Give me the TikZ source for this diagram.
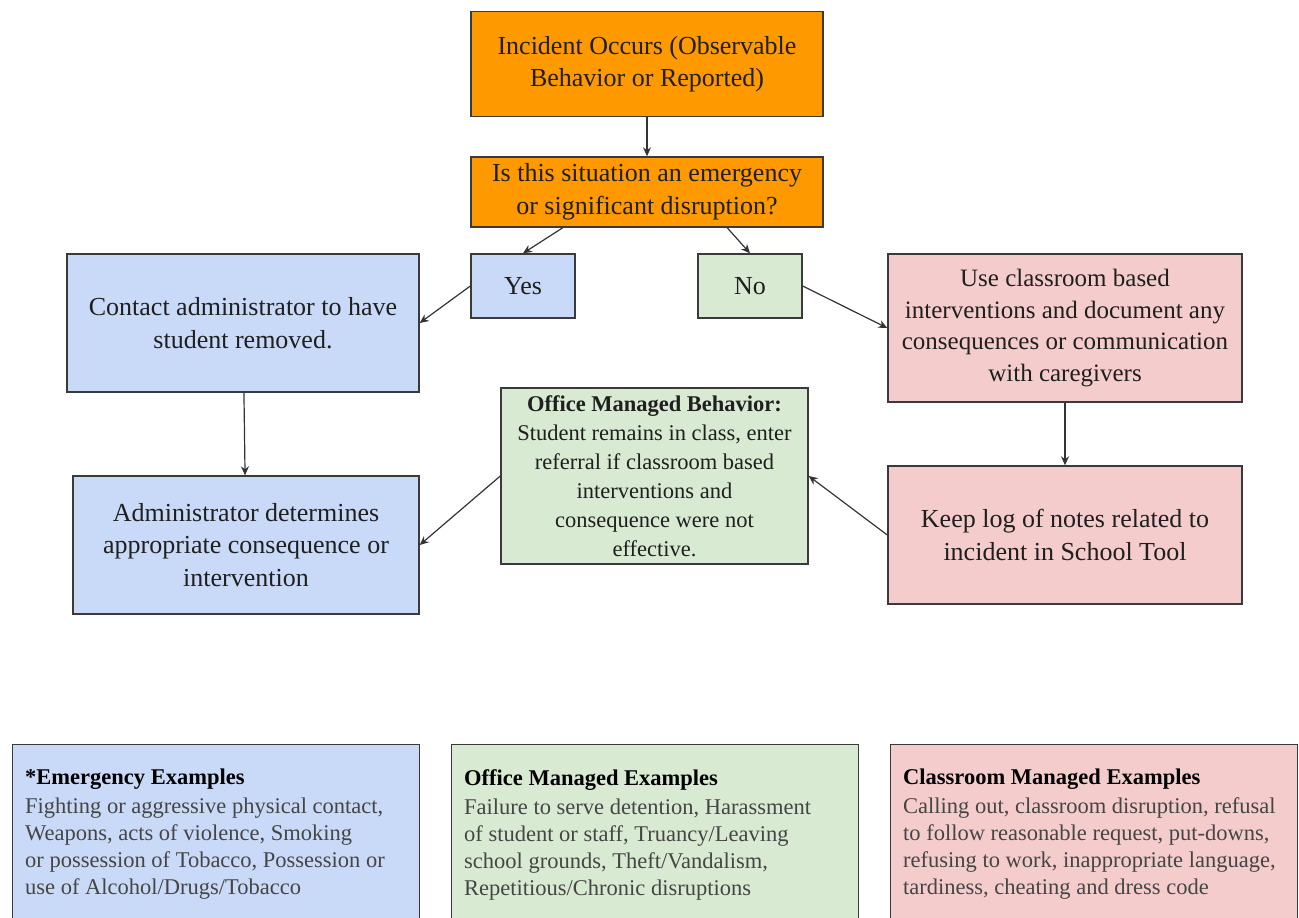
\documentclass[tikz,border=0pt]{standalone}
\usepackage{fontspec}
\setmainfont{Liberation Serif}
\usetikzlibrary{arrows.meta, positioning}
\definecolor{incorange}{HTML}{FF9900}
\definecolor{emgblue}{HTML}{C9DAF8}
\definecolor{offgreen}{HTML}{D9EAD3}
\definecolor{clspink}{HTML}{F4CCCC}
\definecolor{edgegrey}{HTML}{3A3A3A}
\definecolor{bodygrey}{HTML}{454545}
\tikzstyle{flowbox} = [rectangle, draw=edgegrey, line width=1.4pt, align=center, text=black!88, inner sep=0pt, font=\fontsize{26}{32.5}\selectfont]
\tikzstyle{orangebox} = [flowbox, fill=incorange]
\tikzstyle{bluebox} = [flowbox, fill=emgblue]
\tikzstyle{greenbox} = [flowbox, fill=offgreen]
\tikzstyle{pinkbox} = [flowbox, fill=clspink]
\tikzstyle{exbox} = [rectangle, draw=edgegrey, line width=1.4pt, anchor=north west, minimum height=200pt, inner sep=0pt]
\tikzstyle{extext} = [align=left, anchor=north west, inner sep=0pt, text=bodygrey, font=\fontsize{22.5}{27}\selectfont]
\tikzstyle{arrow} = [line width=1.2pt, draw=black!80, -{Stealth[length=9pt,width=8pt]}]

\begin{document}
\begin{tikzpicture}[x=1pt, y=-1pt]
        \useasboundingbox (0,0) rectangle (1299,918);
        \clip (0,0) rectangle (1299,918);

        % Decision flow (top)
        \node (inc) [orangebox, minimum width=352pt, minimum height=105pt] at (647,64) {Incident Occurs (Observable\\Behavior or Reported)};
        \node (quest) [orangebox, minimum width=352pt, minimum height=70pt] at (647,192) {Is this situation an emergency\\or significant disruption?};
        \node (yes) [bluebox, minimum width=104pt, minimum height=64pt] at (523,286) {Yes};
        \node (no) [greenbox, minimum width=104pt, minimum height=64pt] at (750,286) {No};

        % Emergency side (left)
        \node (contact) [bluebox, minimum width=352pt, minimum height=138pt] at (243,323) {Contact administrator to have\\student removed.};
        \node (admin) [bluebox, minimum width=346pt, minimum height=138pt] at (246,545) {Administrator determines\\appropriate consequence or\\intervention};

        % Classroom side (right)
        \node (useint) [pinkbox, minimum width=354pt, minimum height=148pt, font=\fontsize{25}{31.5}\selectfont] at (1065,328) {Use classroom based\\interventions and document any\\consequences or communication\\with caregivers};
        \node (keeplog) [pinkbox, minimum width=354pt, minimum height=138pt] at (1065,535) {Keep log of notes related to\\incident in School Tool};

        % Office managed (center)
        \node (office) [greenbox, minimum width=307pt, minimum height=176pt, font=\fontsize{22.5}{29}\selectfont] at (654.5,476) {\textbf{Office Managed Behavior:}\\Student remains in class, enter\\referral if classroom based\\interventions and\\consequence were not\\effective.};

        % Arrows
        \draw [arrow] (inc) -- (quest);
        \draw [arrow] (quest.-157) -- (yes.north);
        \draw [arrow] (quest.-24) -- (no.north);
        \draw [arrow] (yes.west) -- (contact.east);
        \draw [arrow] (no.east) -- (useint.west);
        \draw [arrow] (contact) -- (admin);
        \draw [arrow] (useint) -- (keeplog);
        \draw [arrow] (office.west) -- (admin.east);
        \draw [arrow] (keeplog.west) -- (office.east);

        % Examples (bottom)
        \node (emgbox) [exbox, fill=emgblue, minimum width=407pt] at (12,744) {};
        \node (offbox) [exbox, fill=offgreen, minimum width=407pt] at (451,744) {};
        \node (clsbox) [exbox, fill=clspink, minimum width=407pt] at (890,744) {};
        \node (emgtext) [extext, below right=25pt and 13pt of emgbox.north west] {{\color{black}\textbf{*Emergency Examples}}\\[2pt]Fighting or aggressive physical contact,\\Weapons, acts of violence, Smoking\\or possession of Tobacco, Possession or\\use of Alcohol/Drugs/Tobacco};
        \node (offtext) [extext, below right=25pt and 13pt of offbox.north west] {{\color{black}\textbf{Office Managed Examples}}\\[2pt]Failure to serve detention, Harassment\\of student or staff, Truancy/Leaving\\school grounds, Theft/Vandalism,\\Repetitious/Chronic disruptions};
        \node (clstext) [extext, below right=25pt and 13pt of clsbox.north west] {{\color{black}\textbf{Classroom Managed Examples}}\\[2pt]Calling out, classroom disruption, refusal\\to follow reasonable request, put-downs,\\refusing to work, inappropriate language,\\tardiness, cheating and dress code};

    \end{tikzpicture}
\end{document}
